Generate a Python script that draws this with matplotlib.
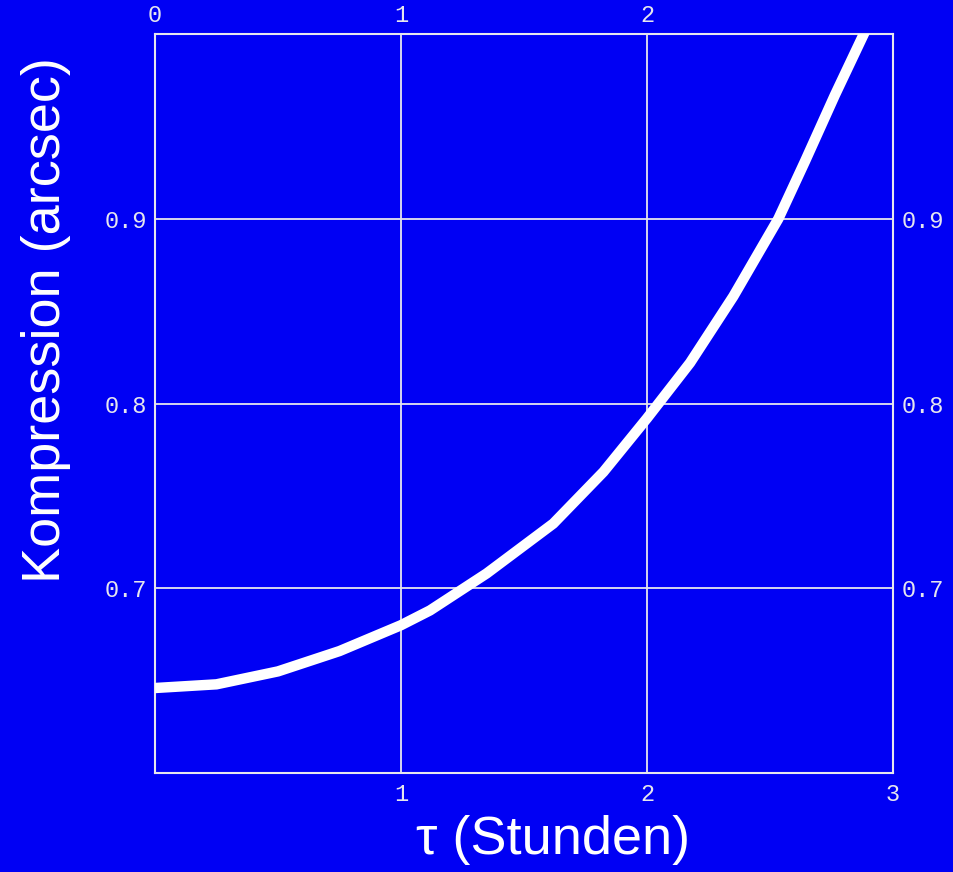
import matplotlib.pyplot as plt

# values
tau = [0.0, 0.25, 0.5, 0.75, 1.0, 1.118, 1.348, 1.619, 1.823, 2.0,
       2.175, 2.351, 2.534, 2.642, 2.764, 2.885]
kompression = [0.646, 0.648, 0.655, 0.666, 0.680, 0.688, 0.708, 0.735,
               0.763, 0.792, 0.822, 0.858, 0.900, 0.931, 0.967, 1.001]

x_top_ticks = [0, 1, 2]
x_bottom_ticks = [1, 2, 3]
y_ticks = [0.7, 0.8, 0.9]

bg = '#0000f4'
fg = '#e6e6ee'

fig = plt.figure(figsize=(9.54, 8.72), dpi=100, facecolor=bg)
ax = fig.add_axes([155 / 954, 1 - 773 / 872, (893 - 155) / 954, (773 - 34) / 872])
ax.set_facecolor(bg)

ax.plot(tau, kompression, color='white', lw=7.5, solid_capstyle='butt',
        solid_joinstyle='round', zorder=3)

ax.set_xlim(0, 3)
ax.set_ylim(0.6, 1.0)

# white grid and frame
ax.set_xticks(x_bottom_ticks)
ax.set_yticks(y_ticks)
ax.grid(True, color=fg, lw=1.3)
for s in ax.spines.values():
    s.set_color(fg)
    s.set_linewidth(1.5)

tick_font = dict(family='Liberation Mono', size=17, color=fg)
ax.tick_params(axis='x', length=0, pad=7)
ax.tick_params(axis='y', length=0, pad=6)
ax.set_xticklabels([str(t) for t in x_bottom_ticks], **tick_font)
ax.set_yticklabels([f"{t:.1f}" for t in y_ticks], **tick_font)

# top axis labels
top = ax.secondary_xaxis('top')
top.set_xticks(x_top_ticks)
top.set_xticklabels([str(t) for t in x_top_ticks], **tick_font)
top.tick_params(length=0, pad=5)
top.spines['top'].set_visible(False)

# right axis labels
right = ax.secondary_yaxis('right')
right.set_yticks(y_ticks)
right.set_yticklabels([f"{t:.1f}" for t in y_ticks], **tick_font)
right.tick_params(length=0, pad=6)
right.spines['right'].set_visible(False)

fig.text(553 / 954, 1 - 840 / 872, 'τ (Stunden)', ha='center', va='center',
         family='Liberation Sans', size=39, color='white')
fig.text(46 / 954, 1 - 320 / 872, 'Kompression (arcsec)', ha='center', va='center',
         rotation=90, family='Liberation Sans', size=39, color='white')

fig.savefig('out.png', dpi=100, facecolor=bg)
